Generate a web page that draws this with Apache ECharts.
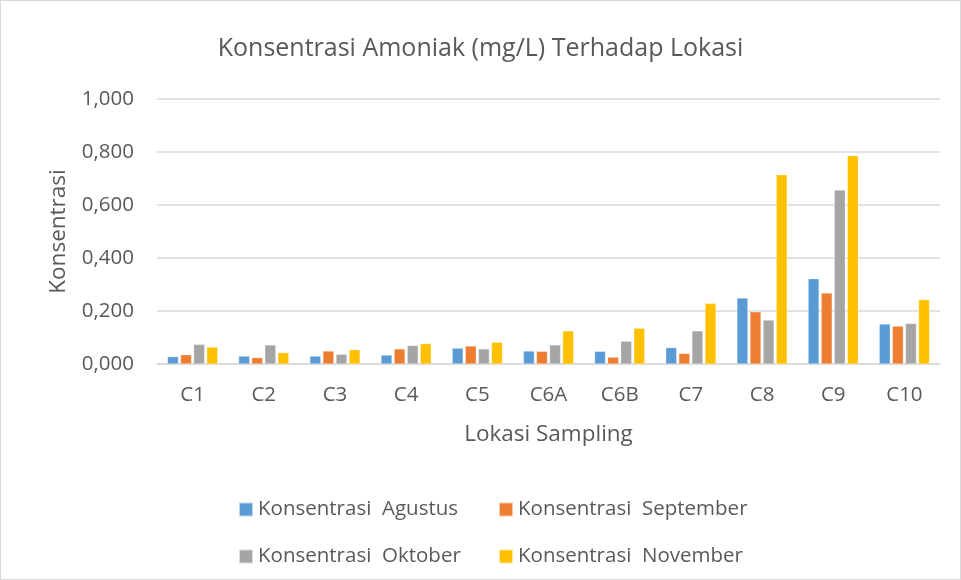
<!DOCTYPE html>
<html><head><meta charset="utf-8">
<script src="https://cdn.jsdelivr.net/npm/echarts@6/dist/echarts.min.js"></script>
<style>
html,body{margin:0;padding:0;background:#fff;}
#c{position:absolute;left:0;top:0;width:959px;height:578px;border:1px solid #d9d9d9;}
</style></head>
<body><div id="c"></div>
<script>
const categories = ['C1','C2','C3','C4','C5','C6A','C6B','C7','C8','C9','C10'];
const seriesNames = ['Konsentrasi  Agustus','Konsentrasi  September','Konsentrasi  Oktober','Konsentrasi  November'];
const agustus   = [0.028,0.030,0.030,0.034,0.060,0.049,0.048,0.062,0.249,0.322,0.151];
const september = [0.035,0.024,0.049,0.057,0.068,0.048,0.026,0.040,0.197,0.268,0.143];
const oktober   = [0.074,0.072,0.037,0.070,0.057,0.072,0.086,0.125,0.166,0.657,0.153];
const november  = [0.064,0.043,0.054,0.077,0.082,0.125,0.135,0.229,0.714,0.786,0.243];
const colors = ['#5b9bd5','#ed7d31','#a5a5a5','#ffc000'];
const font = '"Open Sans", "Liberation Sans", sans-serif';
const txt = '#595959';

const chart = echarts.init(document.getElementById('c'));
const values = [agustus, september, oktober, november];
const legendPos = [[232,493],[492,493],[232,540],[492,540]];
chart.setOption({
  animation:false,
  color: colors,
  title:{text:'Konsentrasi Amoniak (mg/L) Terhadap Lokasi', left:'center', top:30,
    textStyle:{fontFamily:font, fontSize:25, fontWeight:'normal', color:txt}},
  grid:{left:156, right:20, top:98, bottom:215, containLabel:false},
  legend: seriesNames.map((n,i)=>({data:[n], left:legendPos[i][0], top:legendPos[i][1],
    itemWidth:14, itemHeight:14, itemGap:0, icon:'rect',
    textStyle:{fontFamily:font, fontSize:20.5, color:txt}})),
  xAxis:{type:'category', data:categories,
    name:'Lokasi Sampling', nameLocation:'middle', nameGap:59,
    nameTextStyle:{fontFamily:font, fontSize:22.5, color:txt},
    axisLine:{lineStyle:{color:'#d9d9d9', width:1.5}}, axisTick:{show:false},
    axisLabel:{fontFamily:font, fontSize:20.5, color:txt, margin:21}},
  yAxis:{type:'value', min:0, max:1, interval:0.2,
    name:'Konsentrasi', nameLocation:'middle', nameGap:87,
    nameTextStyle:{fontFamily:font, fontSize:22.5, color:txt},
    axisLine:{show:false}, axisTick:{show:false},
    splitLine:{lineStyle:{color:'#d9d9d9', width:1.5}},
    axisLabel:{fontFamily:font, fontSize:20.5, color:txt, margin:23,
      formatter:v=>v.toFixed(3).replace('.',',')}},
  series: seriesNames.map((n,i)=>({name:n, type:'bar', data:values[i],
    barWidth:11, barGap:'19%',
    itemStyle:{color:colors[i], borderColor:'rgba(255,255,255,0.6)', borderWidth:0.5}}))
});
</script></body></html>
